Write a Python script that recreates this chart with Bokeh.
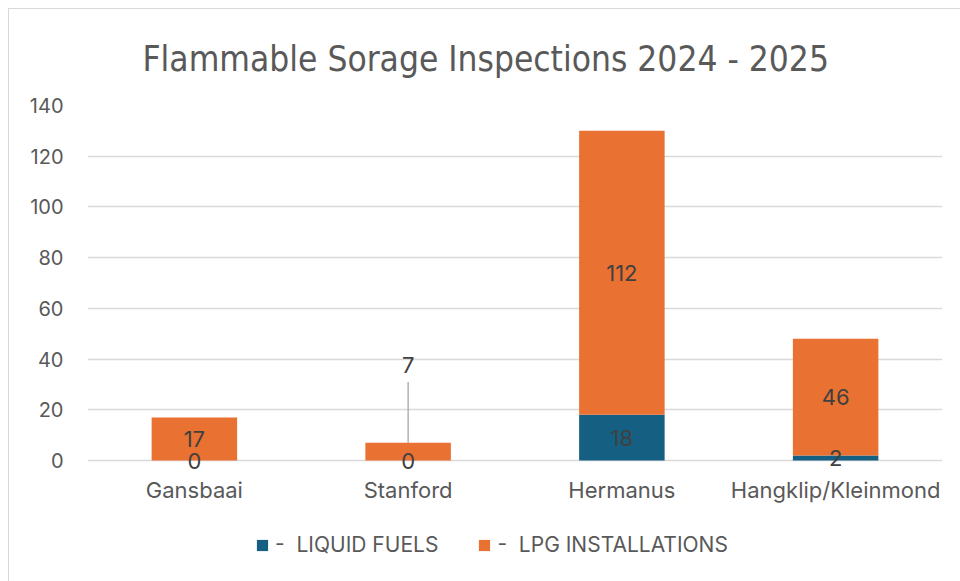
from bokeh.plotting import figure
from bokeh.models import ColumnDataSource, Range1d, FactorRange, Legend, LegendItem, FixedTicker, Title
from bokeh.core.properties import value
from bokeh.embed import file_html
from bokeh.resources import INLINE

# ---- data ----
categories = ["Gansbaai", "Stanford", "Hermanus", "Hangklip/Kleinmond"]
liquid_fuels = [0, 0, 18, 2]
lpg_installations = [17, 7, 112, 46]
y_ticks = [0, 20, 40, 60, 80, 100, 120, 140]
series_names = ["-  LIQUID FUELS", "-  LPG INSTALLATIONS"]
title_text = "Flammable Sorage Inspections 2024 - 2025"

# ---- style / layout ----
BLUE = "#156082"
ORANGE = "#E97132"
TXT = "#595959"
LBL = "#404040"
GRID = "#d9d9d9"
FONT = "Inter"
callout_index = 1          # Stanford LPG label is drawn as a callout
callout_label_y = 37.5
callout_line_top = 31
Y_BOTTOM = -45.35          # frame extends below 0 to hold category labels and legend
CAT_LABEL_Y = -11.8

p = figure(x_range=FactorRange(*categories), y_range=Range1d(Y_BOTTOM, 140),
           frame_width=855, frame_height=470, output_backend="svg", toolbar_location=None,
           x_axis_location=None,
           min_border_left=78, min_border_right=18, min_border_top=96, min_border_bottom=6)
p.styles = {"margin-left": "8px", "margin-top": "8px",
            "border-left": "1px solid #d9d9d9", "border-top": "1px solid #d9d9d9"}
p.outline_line_color = None
p.background_fill_color = "white"
p.border_fill_color = "white"

src = ColumnDataSource(dict(
    cat=categories,
    liquid=liquid_fuels,
    lpg=lpg_installations,
    top=[a + b for a, b in zip(liquid_fuels, lpg_installations)],
))

r1 = p.vbar(x="cat", bottom=0, top="liquid", width=0.4, source=src,
            fill_color=BLUE, line_color=None)
r2 = p.vbar(x="cat", bottom="liquid", top="top", width=0.4, source=src,
            fill_color=ORANGE, line_color=None)

# data labels
liq_lab = ColumnDataSource(dict(x=categories, y=[v / 2 for v in liquid_fuels],
                                t=[str(v) for v in liquid_fuels]))
lpg_y = [a + b / 2 for a, b in zip(liquid_fuels, lpg_installations)]
lpg_y[callout_index] = callout_label_y
lpg_lab = ColumnDataSource(dict(x=categories, y=lpg_y,
                                t=[str(v) for v in lpg_installations]))
for s in (lpg_lab, liq_lab):
    p.text(x="x", y="y", text="t", source=s, text_align="center", text_baseline="middle",
           text_font=value(FONT), text_font_size="22px", text_color=LBL)

# callout leader line
p.segment(x0=[categories[callout_index]], x1=[categories[callout_index]],
          y0=[liquid_fuels[callout_index] + lpg_installations[callout_index]],
          y1=[callout_line_top], line_color="#a6a6a6", line_width=1.3)

# category labels (x axis)
cat_src = ColumnDataSource(dict(x=categories, y=[CAT_LABEL_Y] * len(categories), t=categories))
p.text(x="x", y="y", text="t", source=cat_src, text_align="center", text_baseline="middle",
       text_font=value(FONT), text_font_size="22px", text_color=TXT)

# y axis
p.yaxis.ticker = FixedTicker(ticks=y_ticks)
p.yaxis.axis_line_color = None
p.yaxis.major_tick_line_color = None
p.yaxis.minor_tick_line_color = None
p.yaxis.major_label_text_font = FONT
p.yaxis.major_label_text_font_size = "20px"
p.yaxis.major_label_text_color = TXT
p.yaxis.major_label_standoff = 18

p.xgrid.grid_line_color = None
p.ygrid.ticker = FixedTicker(ticks=y_ticks)
p.ygrid.grid_line_color = GRID
p.ygrid.grid_line_width = 1.4

# title
t = Title(text=title_text, align="left", offset=55, text_font="DejaVu Sans Condensed",
          text_font_size="35px", text_font_style="normal", text_color=TXT, standoff=54)
p.add_layout(t, "above")

# legend (inside frame, near its bottom)
legend = Legend(items=[LegendItem(label=series_names[0], renderers=[r1]),
                       LegendItem(label=series_names[1], renderers=[r2])],
                orientation="horizontal", location=(168, 18),
                label_text_font=FONT, label_text_font_size="21px", label_text_color=TXT,
                glyph_width=14, glyph_height=14, spacing=39, label_standoff=6,
                border_line_color=None, background_fill_alpha=0, margin=0, padding=0)
p.add_layout(legend, "center")

open("out.html", "w").write(file_html(p, INLINE))
